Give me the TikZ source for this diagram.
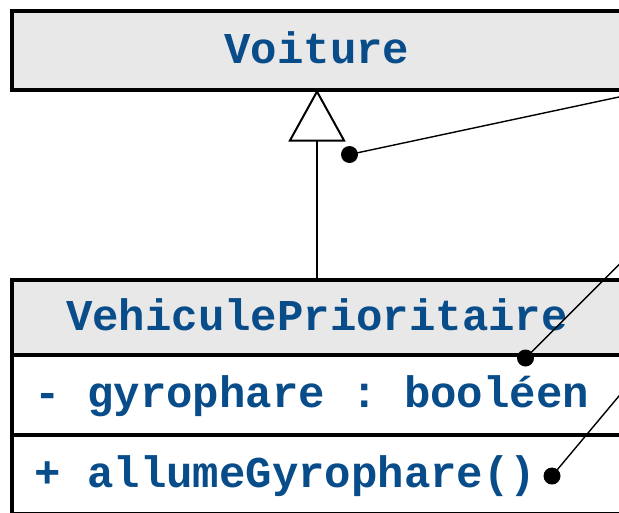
\documentclass[tikz,border=0pt]{standalone}
\usepackage{fontspec}
\newfontfamily\umlfont{Liberation Mono}
\usetikzlibrary{positioning,arrows.meta}
\definecolor{umlblue}{RGB}{8,76,138}
\definecolor{headgray}{RGB}{232,232,232}

\begin{document}
\begin{tikzpicture}[x=1pt, y=-1pt,
    classhead/.style={draw, line width=4pt, fill=headgray, outer sep=0pt,
        minimum width=610pt, inner sep=0pt, text height=26pt, text depth=0pt,
        font=\umlfont\bfseries\fontsize{44pt}{50pt}\selectfont, text=umlblue},
    classcomp/.style={draw, line width=4pt, fill=white, outer sep=0pt,
        minimum width=610pt, text width=565pt, inner xsep=22.5pt, inner ysep=0pt,
        align=left, text height=26pt, text depth=0pt,
        font=\umlfont\bfseries\fontsize{44pt}{50pt}\selectfont,
        execute at begin node={\spaceskip=26.4pt\xspaceskip=26.4pt\relax},
        text=umlblue},
    mydot/.style={circle, fill=black, inner sep=0pt, minimum size=17pt},
    mylink/.style={line width=1.4pt}
]
    \useasboundingbox (0,0) rectangle (619,512);
    \clip (0,0) rectangle (619,512);

    % Classes
    \node[classhead, minimum height=78.5pt] (voiture) at (317,50.25) {Voiture};
    \node[classhead, minimum height=75pt] (vphead) at (317,317.5) {VehiculePrioritaire};
    \node[classcomp, minimum height=79.5pt, below=0pt of vphead] (vpattr) {- gyrophare : booléen};
    \node[classcomp, minimum height=79pt, below=0pt of vpattr] (vpmeth) {+ allumeGyrophare()};

    % Inheritance
    \draw[line width=2pt, -{Triangle[open, length=52pt, width=57pt]}] (vphead.north) -- (voiture.south);

    % Pointers
    \node[mydot] (d1) at (349.5,154.5) {};
    \node[mydot] (d2) at (525.5,358) {};
    \node[mydot] (d3) at (552,476) {};
    \coordinate (e1) at (625,95.7);
    \coordinate (e2) at (625,258.5);
    \coordinate (e3) at (625,388.8);
    \draw[mylink] (d1.center) -- (e1);
    \draw[mylink] (d2.center) -- (e2);
    \draw[mylink] (d3.center) -- (e3);
\end{tikzpicture}
\end{document}
